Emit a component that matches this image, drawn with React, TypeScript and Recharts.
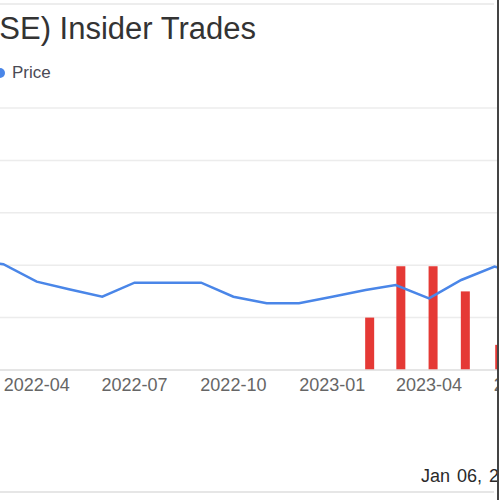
import { ComposedChart, Line, Bar, XAxis, YAxis, CartesianGrid } from 'recharts';

const DAY = 86400000;

// monthly closing price (month start)
const priceDates = [
  '2022-02-01', '2022-03-01', '2022-04-01', '2022-05-01', '2022-06-01', '2022-07-01',
  '2022-08-01', '2022-09-01', '2022-10-01', '2022-11-01', '2022-12-01', '2023-01-01',
  '2023-02-01', '2023-03-01', '2023-04-01', '2023-05-01', '2023-06-01', '2023-07-01',
];
const priceValues = [
  10.4, 10.1, 8.43, 7.7, 6.99, 8.33,
  8.33, 8.33, 6.99, 6.36, 6.36, 6.99,
  7.63, 8.11, 6.84, 8.59, 9.86, 9.0,
];

// insider trades (bars)
const tradeDates = ['2023-02-05', '2023-03-06', '2023-04-05', '2023-05-05', '2023-06-06'];
const tradeValues = [1.0, 1.98, 1.98, 1.5, 0.48];

const tickDates = ['2022-04-01', '2022-07-01', '2022-10-01', '2023-01-01', '2023-04-01', '2023-07-01'];
const priceTicks = [0, 5, 10, 15, 20, 25];

const toTime = (d: string) => Date.parse(d + 'T00:00:00Z');

const rows = [
  ...priceDates.map((d, i) => ({ t: toTime(d), price: priceValues[i] })),
  ...tradeDates.map((d, i) => ({ t: toTime(d), trades: tradeValues[i] })),
].sort((a, b) => a.t - b.t);

// the visible window is a crop of a wider chart
const domainStart = toTime('2022-04-01') - 276.05 * DAY;
const domainEnd = domainStart + 762.93 * DAY;

const fmtTick = (t: number) => {
  const d = new Date(t);
  return `${d.getUTCFullYear()}-${String(d.getUTCMonth() + 1).padStart(2, '0')}`;
};

const FONT = '"Liberation Sans", Arial, sans-serif';
const BAR_W = 9;

// bars on a time axis get a tiny band, so widen them around their centre
const TradeBar = (props: any) => {
  const { x, y, width, height, fill } = props;
  if (height == null || height <= 0) return null;
  return <rect x={x + width / 2 - BAR_W / 2} y={y} width={BAR_W} height={height} fill={fill} />;
};

export default function App() {
  return (
    <div
      style={{
        position: 'fixed',
        left: 0,
        top: 0,
        width: 500,
        height: 500,
        overflow: 'hidden',
        background: '#fff',
        fontFamily: FONT,
      }}
    >
      {/* title */}
      <div
        style={{
          position: 'absolute',
          right: 244,
          top: 11,
          whiteSpace: 'nowrap',
          fontSize: 31,
          lineHeight: '36px',
          color: '#333',
        }}
      >
        (NYSE) Insider Trades
      </div>

      {/* legend */}
      <div
        style={{
          position: 'absolute',
          left: -5,
          top: 68,
          width: 10,
          height: 10,
          borderRadius: 5,
          background: '#4a86e8',
        }}
      />
      <div
        style={{
          position: 'absolute',
          left: 12,
          top: 63,
          fontSize: 17,
          lineHeight: '20px',
          color: '#4a4a55',
        }}
      >
        Price
      </div>

      <div style={{ position: 'absolute', left: -260, top: 0 }}>
        <ComposedChart
          width={820}
          height={500}
          data={rows}
          margin={{ top: 108, right: 0, bottom: 100, left: 0 }}
        >
          <CartesianGrid vertical={false} stroke="#ececec" strokeWidth={1.5} />
          <XAxis
            dataKey="t"
            type="number"
            scale="time"
            domain={[domainStart, domainEnd]}
            ticks={tickDates.map(toTime)}
            tickFormatter={fmtTick}
            height={30}
            tickLine={false}
            axisLine={{ stroke: '#e0e0e0', strokeWidth: 1.5 }}
            tick={{ fill: '#666', fontSize: 18, fontFamily: FONT }}
            interval={0}
          />
          <YAxis hide domain={[0, 25]} ticks={priceTicks} />
          <YAxis hide yAxisId="trades" domain={[0, 5]} />
          <Bar
            dataKey="trades"
            yAxisId="trades"
            fill="#e53935"
            shape={TradeBar}
            isAnimationActive={false}
          />
          <Line
            type="linear"
            dataKey="price"
            stroke="#4a86e8"
            strokeWidth={2.5}
            dot={false}
            connectNulls
            isAnimationActive={false}
          />
        </ComposedChart>
      </div>

      {/* date stamp */}
      <div
        style={{
          position: 'absolute',
          left: 421,
          top: 466,
          whiteSpace: 'nowrap',
          fontSize: 18,
          lineHeight: '20px',
          wordSpacing: 2,
          color: '#2a2a2a',
        }}
      >
        Jan 06, 2024
      </div>

      {/* frame of the cropped image */}
      <div style={{ position: 'absolute', left: 0, top: 3, width: 494, height: 2, background: '#ededed' }} />
      <div style={{ position: 'absolute', left: 0, top: 491, width: 494, height: 2, background: '#e6e6e6' }} />
      <div style={{ position: 'absolute', left: 497, top: 0, width: 3, height: 500, background: '#fff' }} />
      <div style={{ position: 'absolute', left: 497, top: 0, width: 1.5, height: 500, background: '#444' }} />
    </div>
  );
}
